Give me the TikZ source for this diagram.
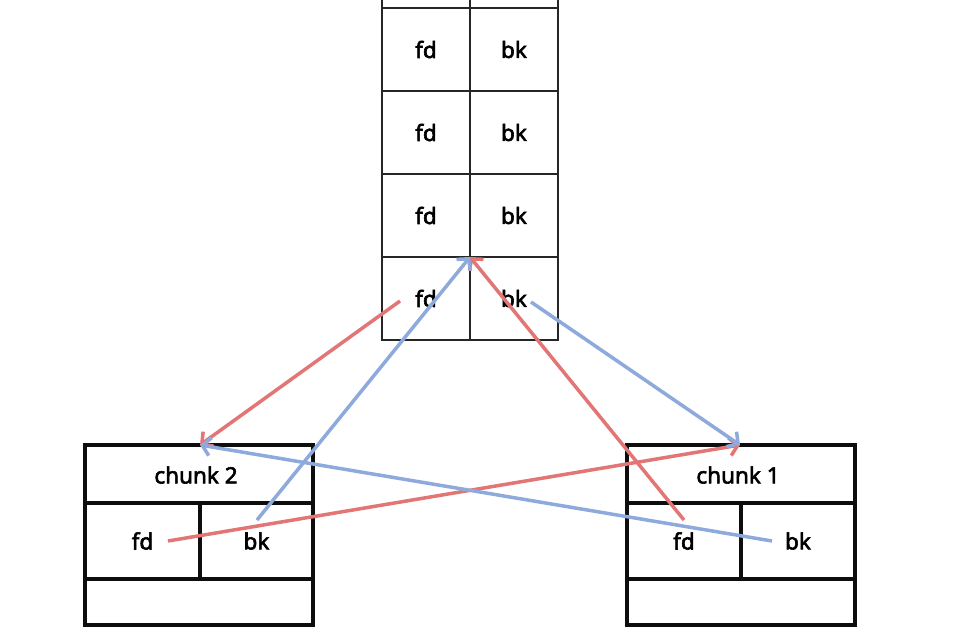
\documentclass[tikz,border=0pt]{standalone}
\usepackage{fontspec}
\setmainfont{Noto Sans}
\newfontfamily\lblfont{Noto Sans}[FakeBold=2.6]
\usetikzlibrary{arrows.meta}
\definecolor{redl}{HTML}{E27575}
\definecolor{bluel}{HTML}{8EA9DC}
\begin{document}
\begin{tikzpicture}[x=1pt,y=-1pt,
  lbl/.style={font=\lblfont\bfseries\fontsize{22.5}{26}\selectfont},
  cell/.style={draw=black!85, line width=1.7pt, outer sep=0pt, minimum width=88pt, minimum height=83pt, inner sep=0pt, anchor=north west, lbl},
  cbox/.style={draw=black!95, line width=3.4pt, outer sep=0pt, inner sep=0pt, anchor=north west, lbl},
  link/.style={line width=3.5pt, -{Straight Barb[length=8pt,width=18pt]}},
  rlink/.style={link, draw=redl},
  blink/.style={link, draw=bluel}]
\useasboundingbox (0,0) rectangle (980,637);
% table
\node[cell] (t0a) at (382,-75) {};
\node[cell] (t0b) at (470,-75) {};
\foreach \i/\y in {1/8,2/91,3/174,4/257}{
  \node[cell] (t\i a) at (382,\y) {fd};
  \node[cell] (t\i b) at (470,\y) {bk};
}
% chunk 2
\node[cbox, minimum width=228pt, minimum height=58pt] (c2h) at (85,445) {};
\node[lbl] (c2t) at (196,475) {chunk 2};
\node[cbox, minimum width=115pt, minimum height=76pt] (c2fd) at (85,503) {fd};
\node[cbox, minimum width=113pt, minimum height=76pt] (c2bk) at (200,503) {bk};
\node[cbox, minimum width=228pt, minimum height=46pt] (c2b) at (85,579) {};
% chunk 1
\node[cbox, minimum width=228pt, minimum height=58pt] (c1h) at (627,445) {};
\node[lbl] (c1t) at (738,475) {chunk 1};
\node[cbox, minimum width=114pt, minimum height=76pt] (c1fd) at (627,503) {fd};
\node[cbox, minimum width=114pt, minimum height=76pt] (c1bk) at (741,503) {bk};
\node[cbox, minimum width=228pt, minimum height=46pt] (c1b) at (627,579) {};
% endpoints
\coordinate (tfd) at (400,301);
\coordinate (tbk) at (531,302);
\coordinate (tj) at (470,257);
\coordinate (c2top) at (200,445);
\coordinate (c1top) at (740,445);
\coordinate (c2fdp) at (168,541);
\coordinate (c2bkp) at (257,520);
\coordinate (c1fdp) at (684,520);
\coordinate (c1bkp) at (772,541);
% links
\draw[rlink] (tfd) -- (c2top);
\draw[rlink] (c2fdp) -- (c1top);
\draw[rlink] (c1fdp) -- (tj);
\draw[blink] (c2bkp) -- (tj);
\draw[blink] (tbk) -- (c1top);
\draw[blink] (c1bkp) -- (c2top);
\end{tikzpicture}
\end{document}
